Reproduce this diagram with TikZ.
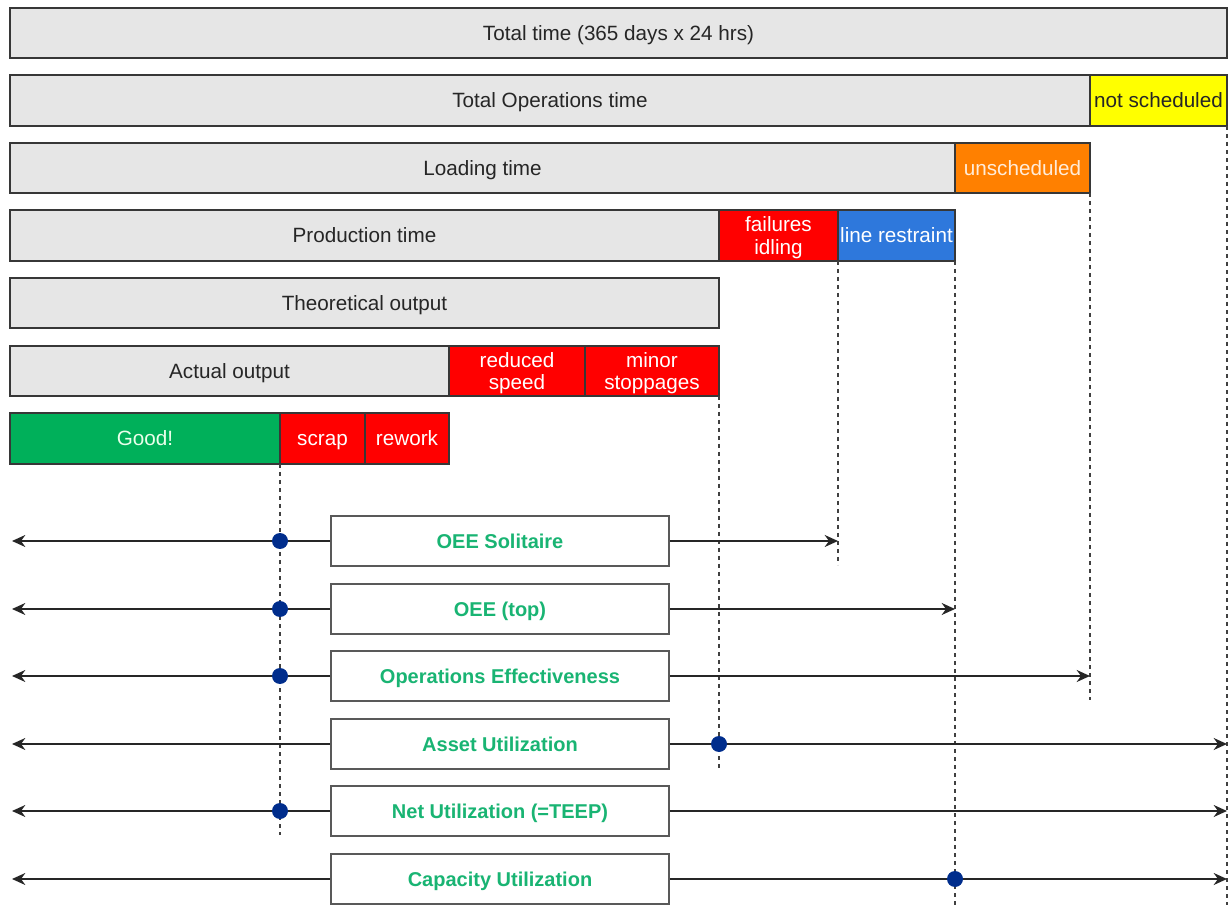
\documentclass[tikz,border=0pt]{standalone}
\usepackage{fontspec}
\setmainfont{Liberation Sans}
\usetikzlibrary{arrows.meta}

\definecolor{barfill}{RGB}{230,230,230}
\definecolor{barline}{RGB}{55,55,55}
\definecolor{lossred}{RGB}{255,0,0}
\definecolor{lossblue}{RGB}{46,120,220}
\definecolor{lossorange}{RGB}{255,128,0}
\definecolor{lossyellow}{RGB}{255,255,0}
\definecolor{goodgreen}{RGB}{0,176,90}
\definecolor{kpigreen}{RGB}{25,180,115}
\definecolor{markblue}{RGB}{0,45,140}

% one segment of a time bar: name, style, x1, x2, y1, y2, text (pixel grid)
\newcommand\timeseg[7]{%
  \node[#2, minimum width={(#4-#3)*0.75pt}, minimum height={(#6-#5)*0.75pt}]
    (#1) at ({(#3+#4)/2},{(#5+#6)/2}) {#7};}

\tikzset{
  segbase/.style={draw=barline, line width=1.1pt, inner sep=0pt, outer sep=0pt,
    align=center, font=\fontsize{15.5}{17}\selectfont},
  oneline/.style={text height=11.2pt, text depth=0.4pt},
  graybar/.style={segbase, oneline, fill=barfill, text=black!85},
  redbar/.style={segbase, oneline, fill=lossred, text=white},
  redpair/.style={segbase, fill=lossred, text=white, text depth=0pt},
  bluebar/.style={segbase, oneline, fill=lossblue, text=white},
  orangebar/.style={segbase, oneline, fill=lossorange, text=orange!15},
  yellowbar/.style={segbase, oneline, fill=lossyellow, text=black!85},
  greenbar/.style={segbase, oneline, fill=goodgreen, text=green!8},
  kpibox/.style={draw=black!65, line width=1.3pt, fill=white,
    minimum width={338*0.75pt}, minimum height={50*0.75pt}, inner sep=0pt,
    text height=10.8pt, text depth=0pt,
    text=kpigreen, font=\bfseries\fontsize{15}{18}\selectfont},
  guide/.style={draw=black!75, line width=1.1pt, dash pattern=on 3pt off 3pt},
  flow/.style={draw=black!85, line width=1.1pt, -{Stealth[length=10pt,width=9pt]}},
  marker/.style={circle, fill=markblue, minimum size=12pt, inner sep=0pt}
}

\begin{document}
\begin{tikzpicture}[x=0.75pt,y=-0.75pt]
\useasboundingbox (0,0) rectangle (1229,905);

% time breakdown bars
\timeseg{total}{graybar}{10}{1227}{8}{58}{Total time (365 days x 24 hrs)}
\timeseg{ops}{graybar}{10}{1090}{75}{126}{Total Operations time}
\timeseg{notsched}{yellowbar}{1090}{1227}{75}{126}{not scheduled}
\timeseg{loading}{graybar}{10}{955}{143}{193}{Loading time}
\timeseg{unsched}{orangebar}{955}{1090}{143}{193}{unscheduled}
\timeseg{prod}{graybar}{10}{719}{210}{261}{Production time}
\timeseg{failures}{redpair}{719}{838}{210}{261}{failures\\idling}
\timeseg{restraint}{bluebar}{838}{955}{210}{261}{line restraint}
\timeseg{theo}{graybar}{10}{719}{278}{328}{Theoretical output}
\timeseg{actual}{graybar}{10}{449}{346}{396}{Actual output}
\timeseg{speed}{redpair}{449}{585}{346}{396}{reduced\\speed}
\timeseg{minor}{redpair}{585}{719}{346}{396}{minor\\stoppages}
\timeseg{good}{greenbar}{10}{280}{413}{464}{Good!}
\timeseg{scrap}{redbar}{280}{365}{413}{464}{scrap}
\timeseg{rework}{redbar}{365}{449}{413}{464}{rework}

% ends of the vertical guide lines
\coordinate (gend1) at (280,835);
\coordinate (gend2) at (838,565);
\coordinate (gend3) at (955,905);
\coordinate (gend4) at (1090,700);
\coordinate (gend5) at (719,768);
\coordinate (gend6) at (1227,905);

\draw[guide] (good.south east) -- (gend1);
\draw[guide] (failures.south east) -- (gend2);
\draw[guide] (restraint.south east) -- (gend3);
\draw[guide] (unsched.south east) -- (gend4);
\draw[guide] (minor.south east) -- (gend5);
\draw[guide] (notsched.south east) -- (gend6);

% KPI boxes
\node[kpibox] (k1) at (500,541) {OEE Solitaire};
\node[kpibox] (k2) at (500,609) {OEE (top)};
\node[kpibox] (k3) at (500,676) {Operations Effectiveness};
\node[kpibox] (k4) at (500,744) {Asset Utilization};
\node[kpibox] (k5) at (500,811) {Net Utilization (=TEEP)};
\node[kpibox] (k6) at (500,879) {Capacity Utilization};

% arrow ends
\coordinate (l1) at (12,541);   \coordinate (r1) at (838,541);
\coordinate (l2) at (12,609);   \coordinate (r2) at (955,609);
\coordinate (l3) at (12,676);   \coordinate (r3) at (1090,676);
\coordinate (l4) at (12,744);   \coordinate (r4) at (1227,744);
\coordinate (l5) at (12,811);   \coordinate (r5) at (1227,811);
\coordinate (l6) at (12,879);   \coordinate (r6) at (1227,879);

\foreach \i in {1,...,6}{
  \draw[flow] (k\i.west) -- (l\i);
  \draw[flow] (k\i.east) -- (r\i);
}

% measuring points
\node[marker] (m1) at (280,541) {};
\node[marker] (m2) at (280,609) {};
\node[marker] (m3) at (280,676) {};
\node[marker] (m4) at (719,744) {};
\node[marker] (m5) at (280,811) {};
\node[marker] (m6) at (955,879) {};
\end{tikzpicture}
\end{document}
